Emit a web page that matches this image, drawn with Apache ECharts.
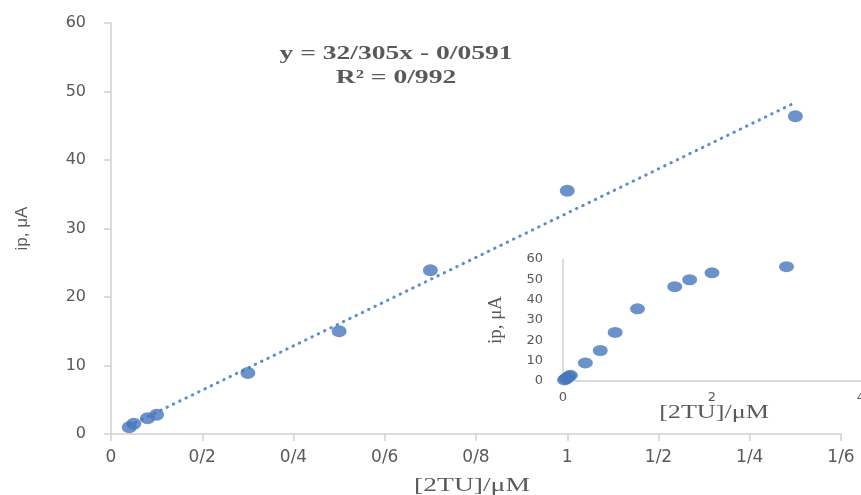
<!DOCTYPE html>
<html>
<head>
<meta charset="utf-8">
<script src="https://cdn.jsdelivr.net/npm/echarts@6/dist/echarts.min.js"></script>
<style>
  html, body { margin: 0; padding: 0; background: #fff; }
  #chart { width: 861px; height: 495px; }
</style>
</head>
<body>
<div id="chart"></div>
<script>
// Peak current vs. 2TU concentration (linear range)
const mainX = [0.04, 0.05, 0.08, 0.10, 0.30, 0.50, 0.70, 1.00, 1.50];
const mainY = [1.0, 1.5, 2.3, 2.8, 8.9, 15.0, 23.9, 35.5, 46.4];

// Full concentration range (inset)
const insetX = [0.02, 0.04, 0.05, 0.08, 0.10, 0.30, 0.50, 0.70, 1.00, 1.50, 1.70, 2.00, 3.00];
const insetY = [0.5, 1.0, 1.5, 2.3, 2.8, 8.9, 15.0, 23.9, 35.5, 46.4, 49.8, 53.2, 56.2];

// Linear fit: y = slope * x + intercept
const slope = 32.305;
const intercept = -0.0591;
const equationLines = ['y = 32/305x - 0/0591', 'R² = 0/992'];

// Tick labels use "/" as decimal separator
const xTickLabels = ['0', '0/2', '0/4', '0/6', '0/8', '1', '1/2', '1/4', '1/6'];

const xTitle = '[2TU]/μM';
const yTitle = 'ip, μA';

const xMin = Math.min(...mainX), xMax = Math.max(...mainX);
const trend = [[xMin, slope * xMin + intercept], [xMax, slope * xMax + intercept]];

const grey = '#595959';
const axisGrey = '#d0d0d0';
const dotColor = '#4677bd';
const sans = '"DejaVu Sans", "Liberation Sans", sans-serif';
const serif = '"Liberation Serif", "Times New Roman", serif';
const wide = 1.45; // horizontal stretch of the free text blocks

const chart = echarts.init(document.getElementById('chart'), null, { renderer: 'canvas' });
chart.setOption({
  animation: false,
  backgroundColor: '#ffffff',
  grid: [
    { left: 111, right: 20, top: 23, bottom: 61, outerBoundsMode: 'none' },
    { left: 563, right: 0, top: 259, bottom: 114, outerBoundsMode: 'none' }
  ],
  xAxis: [
    {
      gridIndex: 0, type: 'value', min: 0, max: 1.6, interval: 0.2,
      axisLine: { show: true, lineStyle: { color: axisGrey, width: 1.5 } },
      axisTick: { show: true, length: 7, lineStyle: { color: axisGrey, width: 1.5 } },
      splitLine: { show: false },
      axisLabel: {
        color: grey, fontFamily: sans, fontSize: 17, margin: 15,
        formatter: v => xTickLabels[Math.round(v / 0.2)]
      }
    },
    {
      gridIndex: 1, type: 'value', min: 0, max: 4, interval: 2,
      axisLine: { show: true, lineStyle: { color: axisGrey, width: 1.5 } },
      axisTick: { show: false },
      splitLine: { show: false },
      axisLabel: { color: grey, fontFamily: sans, fontSize: 13, margin: 10 }
    }
  ],
  yAxis: [
    {
      gridIndex: 0, type: 'value', min: 0, max: 60, interval: 10,
      name: yTitle, nameLocation: 'middle', nameGap: 80, nameRotate: 90,
      nameTextStyle: { color: grey, fontFamily: '"Liberation Sans", sans-serif', fontSize: 17 },
      axisLine: { show: true, lineStyle: { color: axisGrey, width: 1.5 } },
      axisTick: { show: true, length: 7, lineStyle: { color: axisGrey, width: 1.5 } },
      splitLine: { show: false },
      axisLabel: { color: grey, fontFamily: sans, fontSize: 16, margin: 25 }
    },
    {
      gridIndex: 1, type: 'value', min: 0, max: 60, interval: 10,
      name: yTitle, nameLocation: 'middle', nameGap: 57, nameRotate: 90,
      nameTextStyle: { color: grey, fontFamily: serif, fontSize: 19 },
      axisLine: { show: true, lineStyle: { color: axisGrey, width: 1.5 } },
      axisTick: { show: false },
      splitLine: { show: false },
      axisLabel: { color: grey, fontFamily: sans, fontSize: 13, margin: 20 }
    }
  ],
  series: [
    {
      name: 'trend', type: 'line', xAxisIndex: 0, yAxisIndex: 0,
      data: trend, showSymbol: false, symbol: 'none', z: 2,
      lineStyle: { color: '#5b8fd0', width: 3, type: [0.5, 6.5], cap: 'round' }
    },
    {
      name: 'ip', type: 'scatter', xAxisIndex: 0, yAxisIndex: 0,
      data: mainX.map((x, i) => [x, mainY[i]]),
      symbol: 'circle', symbolSize: [15, 12], z: 3,
      itemStyle: { color: dotColor }
    },
    {
      name: 'ip (full range)', type: 'scatter', xAxisIndex: 1, yAxisIndex: 1,
      data: insetX.map((x, i) => [x, insetY[i]]),
      symbol: 'circle', symbolSize: [15, 11], z: 3,
      itemStyle: { color: dotColor }
    }
  ],
  graphic: [
    {
      // regression equation
      type: 'text', x: 396, y: 42, scaleX: wide,
      style: {
        text: equationLines.join('\n'), align: 'center', verticalAlign: 'top',
        fill: grey, font: 'bold 19px ' + serif, lineHeight: 24
      }
    },
    {
      // main x-axis title
      type: 'text', x: 472, y: 486, scaleX: wide,
      style: {
        text: xTitle, align: 'center', verticalAlign: 'middle',
        fill: grey, font: '19px ' + serif
      }
    },
    {
      // inset x-axis title
      type: 'text', x: 714, y: 413, scaleX: wide,
      style: {
        text: xTitle, align: 'center', verticalAlign: 'middle',
        fill: grey, font: '18px ' + serif
      }
    }
  ]
});
</script>
</body>
</html>
